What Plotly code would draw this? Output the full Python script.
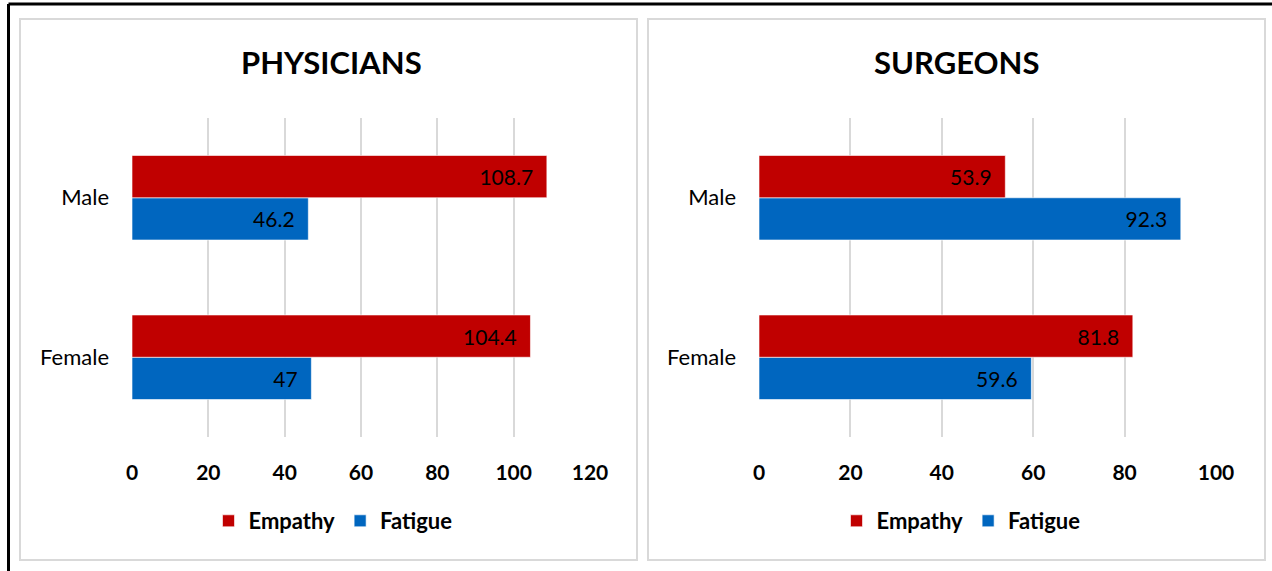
import plotly.graph_objects as go

categories = ["Female", "Male"]
phys_empathy = [104.4, 108.7]
phys_fatigue = [47, 46.2]
surg_empathy = [81.8, 53.9]
surg_fatigue = [59.6, 92.3]
phys_ticks = [0, 20, 40, 60, 80, 100, 120]
surg_ticks = [0, 20, 40, 60, 80, 100]

RED = "#C00000"
BLUE = "#0066BF"
GRID = "#D9D9D9"
FONT = "Lato"
W, H = 1272, 571
PAD = "\u00a0" * 2

def px(x):
    return x / W

def py(y):
    return 1 - y / H

fig = go.Figure()

def fmt(v):
    return f"{v:g}" + PAD

def add_pair(emp, fat, xa, ya, leg):
    fig.add_trace(go.Bar(
        y=categories, x=fat, orientation="h", name="Fatigue",
        marker=dict(color=BLUE, line=dict(color="rgba(255,255,255,0.6)", width=1)),
        text=[fmt(v) for v in fat], textposition="inside", insidetextanchor="end",
        textfont=dict(color="black", size=21, family=FONT), xaxis=xa, yaxis=ya,
        legend=leg, legendrank=2, cliponaxis=False,
    ))
    fig.add_trace(go.Bar(
        y=categories, x=emp, orientation="h", name="Empathy",
        marker=dict(color=RED, line=dict(color="rgba(255,255,255,0.6)", width=1)),
        text=[fmt(v) for v in emp], textposition="inside", insidetextanchor="end",
        textfont=dict(color="black", size=21, family=FONT), xaxis=xa, yaxis=ya,
        legend=leg, legendrank=1, cliponaxis=False,
    ))

add_pair(phys_empathy, phys_fatigue, "x", "y", "legend")
add_pair(surg_empathy, surg_fatigue, "x2", "y2", "legend2")

ydom = [py(437), py(118)]
xcommon = dict(showgrid=True, gridcolor=GRID, gridwidth=2, zeroline=False,
               showline=False, ticks="", ticklabelstandoff=21, automargin=False,
               tickfont=dict(family=FONT, size=21, color="black", weight="bold"),
               fixedrange=True)
ycommon = dict(showgrid=False, zeroline=False, showline=False, ticks="",
               categoryorder="array", categoryarray=categories,
               ticklabelstandoff=22, automargin=False,
               tickfont=dict(family=FONT, size=22, color="black"), fixedrange=True)

legfont = dict(family=FONT, size=22, color="black", weight="bold")

fig.update_layout(
    template="none",
    width=W, height=H, margin=dict(l=0, r=0, t=0, b=0, pad=0, autoexpand=False),
    paper_bgcolor="white", plot_bgcolor="white",
    barmode="group", bargap=0.47, bargroupgap=0,
    font=dict(family=FONT),
    xaxis=dict(domain=[px(132), px(590)], range=[0, 120], tickvals=phys_ticks, anchor="y", **xcommon),
    yaxis=dict(domain=ydom, anchor="x", **ycommon),
    xaxis2=dict(domain=[px(759), px(1216)], range=[0, 100], tickvals=surg_ticks, anchor="y2", **xcommon),
    yaxis2=dict(domain=ydom, anchor="x2", **ycommon),
    legend=dict(orientation="h", x=px(333), xanchor="center", y=py(521), yanchor="middle",
                font=legfont, bgcolor="rgba(0,0,0,0)", itemwidth=30, tracegroupgap=0),
    legend2=dict(orientation="h", x=px(961), xanchor="center", y=py(521), yanchor="middle",
                 font=legfont, bgcolor="rgba(0,0,0,0)", itemwidth=30, tracegroupgap=0),
    annotations=[
        dict(text="PHYSICIANS", x=px(331), y=py(62), xref="paper", yref="paper",
             showarrow=False, xanchor="center", yanchor="middle",
             font=dict(family=FONT, size=31, color="black", weight="bold")),
        dict(text="SURGEONS", x=px(956), y=py(62), xref="paper", yref="paper",
             showarrow=False, xanchor="center", yanchor="middle",
             font=dict(family=FONT, size=31, color="black", weight="bold")),
    ],
    shapes=[
        dict(type="rect", xref="paper", yref="paper", x0=px(20), x1=px(637), y0=py(560), y1=py(19),
             line=dict(color=GRID, width=2), layer="below"),
        dict(type="rect", xref="paper", yref="paper", x0=px(648), x1=px(1265), y0=py(560), y1=py(19),
             line=dict(color=GRID, width=2), layer="below"),
        dict(type="line", xref="paper", yref="paper", x0=px(8.5), x1=1, y0=py(4), y1=py(4),
             line=dict(color="black", width=3)),
        dict(type="line", xref="paper", yref="paper", x0=px(8.5), x1=px(8.5), y0=0, y1=py(4),
             line=dict(color="black", width=3)),
    ],
)

fig.write_html("out.html")
